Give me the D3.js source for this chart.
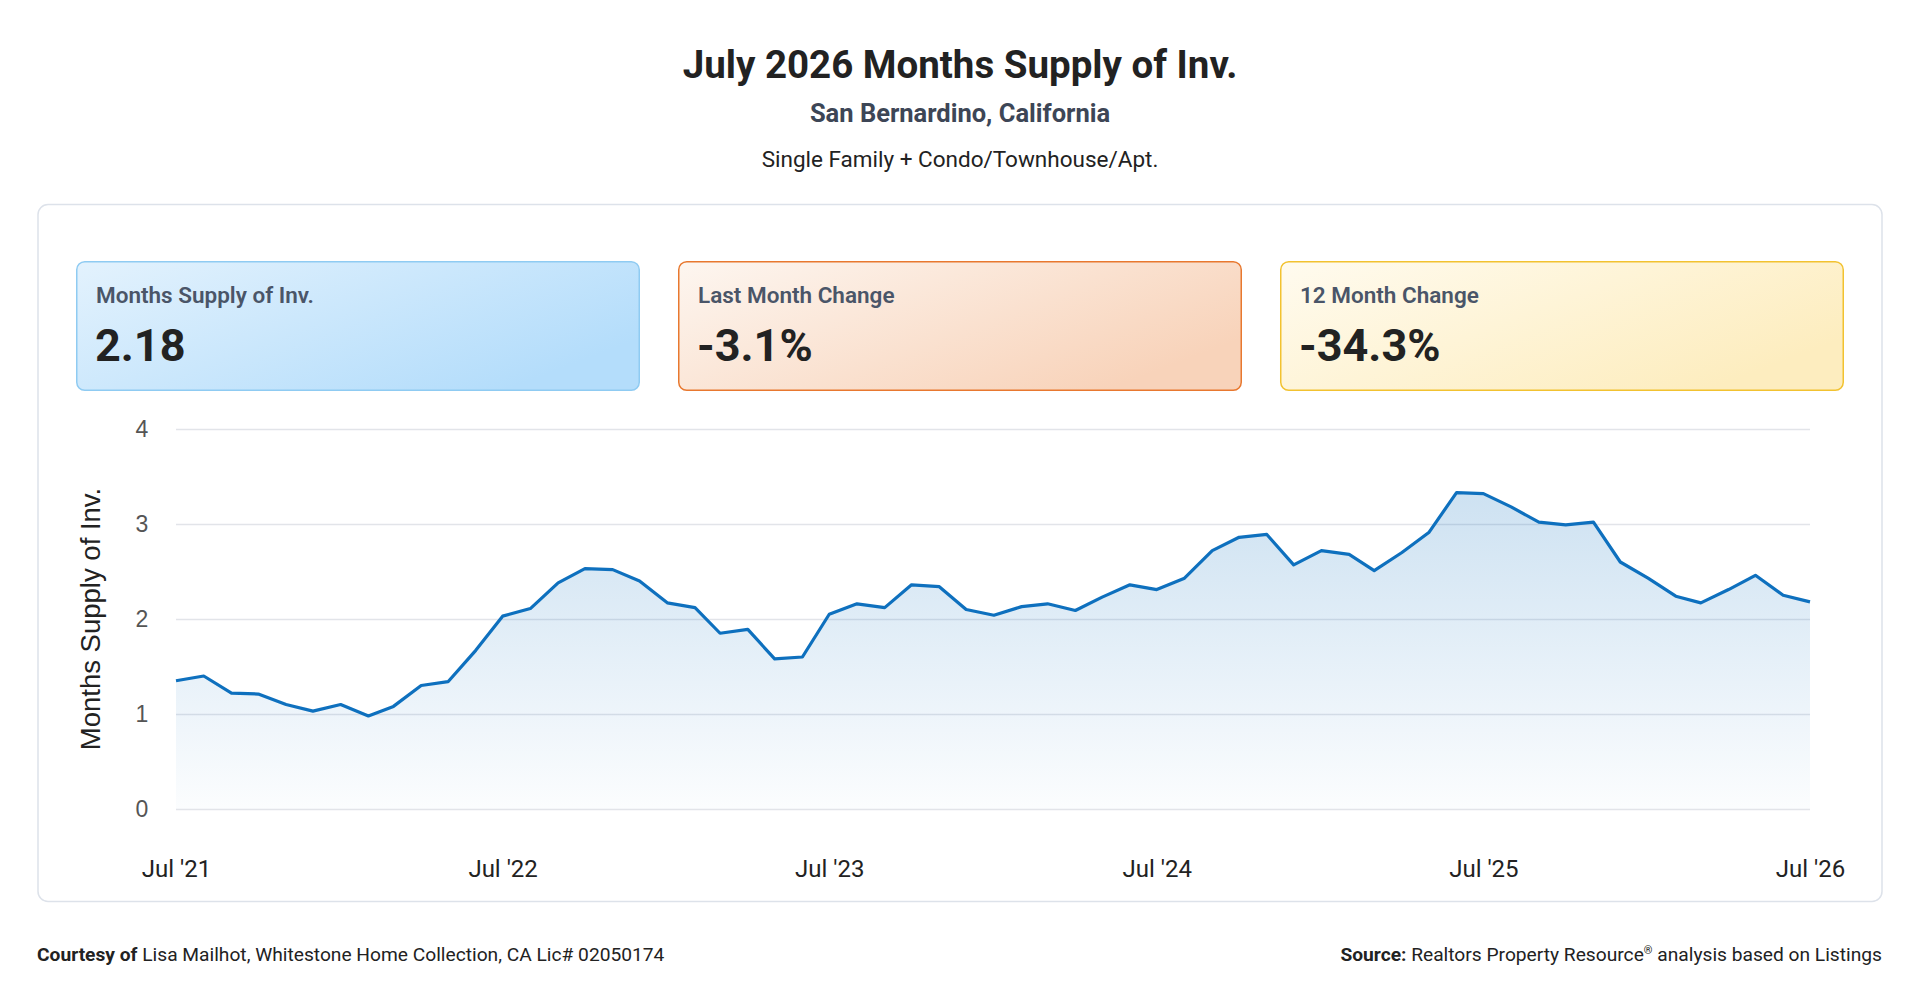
<!DOCTYPE html>
<html>
<head>
<meta charset="utf-8">
<script src="https://cdn.jsdelivr.net/npm/d3@7"></script>
<style>
  html, body { margin: 0; padding: 0; background: #fff; }
  svg { display: block; font-family: Roboto, "Noto Sans", sans-serif; }
</style>
</head>
<body>
<div id="chart"></div>
<script>
// monthly months-supply values, Jul 2021 .. Jul 2026
const startMonth = new Date(2021, 6, 1);
const supplyValues = [
  1.35, 1.40, 1.22, 1.21, 1.10, 1.03, 1.10, 0.98, 1.08, 1.30, 1.34, 1.67,
  2.03, 2.11, 2.38, 2.53, 2.52, 2.40, 2.17, 2.12, 1.85, 1.89, 1.58, 1.60,
  2.05, 2.16, 2.12, 2.36, 2.34, 2.10, 2.04, 2.13, 2.16, 2.09, 2.23, 2.36,
  2.31, 2.43, 2.72, 2.86, 2.89, 2.57, 2.72, 2.68, 2.51, 2.70, 2.91, 3.33,
  3.32, 3.18, 3.02, 2.99, 3.02, 2.60, 2.43, 2.24, 2.17, 2.31, 2.46, 2.25,
  2.18
];
const xTickLabels = ["Jul '21", "Jul '22", "Jul '23", "Jul '24", "Jul '25", "Jul '26"];
const yTicks = [0, 1, 2, 3, 4];

const cardLabels = ['Months Supply of Inv.', 'Last Month Change', '12 Month Change'];
const cardValues = ['2.18', '-3.1%', '-34.3%'];
const cardColors = [
  { from: '#e3f2fd', to: '#b4ddfb', border: '#8fcbf2' },
  { from: '#fdf6f0', to: '#f8d3ba', border: '#e8782f' },
  { from: '#fffbef', to: '#fdedbf', border: '#f2c230' },
];

const W = 1920, H = 1007;
const margin = { left: 176, right: 110, top: 429, bottom: 198 };

const svg = d3.select('#chart')
  .append('svg')
  .attr('width', W)
  .attr('height', H);

const defs = svg.append('defs');

// headings
svg.append('text')
  .attr('x', W / 2).attr('y', 78)
  .attr('text-anchor', 'middle')
  .attr('font-size', 38.5).attr('font-weight', 700)
  .attr('fill', '#222')
  .text('July 2026 Months Supply of Inv.');

svg.append('text')
  .attr('x', W / 2).attr('y', 122)
  .attr('text-anchor', 'middle')
  .attr('font-size', 25.5).attr('font-weight', 700)
  .attr('fill', '#3d4656')
  .text('San Bernardino, California');

svg.append('text')
  .attr('x', W / 2).attr('y', 167)
  .attr('text-anchor', 'middle')
  .attr('font-size', 22.5)
  .attr('fill', '#222')
  .text('Single Family + Condo/Townhouse/Apt.');

// outer panel
svg.append('rect')
  .attr('x', 38).attr('y', 204.5)
  .attr('width', 1844).attr('height', 697)
  .attr('rx', 10)
  .attr('fill', '#fff')
  .attr('stroke', '#dde2ea')
  .attr('stroke-width', 1.5);

// KPI cards
const cardW = 564, cardH = 130, cardGap = 38;
cardColors.forEach((c, i) => {
  const g = defs.append('linearGradient')
    .attr('id', `card-grad-${i}`)
    .attr('x1', '0%').attr('y1', '0%')
    .attr('x2', '100%').attr('y2', '60%');
  g.append('stop').attr('offset', '0%').attr('stop-color', c.from);
  g.append('stop').attr('offset', '100%').attr('stop-color', c.to);
});

const cards = svg.selectAll('.card')
  .data(cardLabels)
  .join('g')
  .attr('class', 'card')
  .attr('transform', (d, i) => `translate(${76 + i * (cardW + cardGap)},261)`);

cards.append('rect')
  .attr('x', 0.75).attr('y', 0.75)
  .attr('width', cardW - 1.5).attr('height', cardH - 1.5)
  .attr('rx', 8)
  .attr('fill', (d, i) => `url(#card-grad-${i})`)
  .attr('stroke', (d, i) => cardColors[i].border)
  .attr('stroke-width', 1.5);

cards.append('text')
  .attr('x', 20).attr('y', 42)
  .attr('font-size', 22.5).attr('font-weight', 600)
  .attr('fill', '#4a5568')
  .text((d) => d);

cards.append('text')
  .attr('x', 19).attr('y', 100)
  .attr('font-size', 45).attr('font-weight', 700)
  .attr('fill', '#222')
  .text((d, i) => cardValues[i]);

// chart
const months = supplyValues.map((v, i) => d3.timeMonth.offset(startMonth, i));
const data = months.map((m, i) => ({ date: m, value: supplyValues[i] }));

const xScale = d3.scaleTime()
  .domain(d3.extent(months))
  .range([margin.left, W - margin.right]);

const yScale = d3.scaleLinear()
  .domain([0, 4])
  .range([H - margin.bottom, margin.top]);

const julyTicks = xTickLabels.map((t, i) => d3.timeYear.offset(startMonth, i));

const areaGrad = defs.append('linearGradient')
  .attr('id', 'area-grad')
  .attr('gradientUnits', 'userSpaceOnUse')
  .attr('x1', 0).attr('y1', yScale(3.4))
  .attr('x2', 0).attr('y2', yScale(0));
areaGrad.append('stop').attr('offset', '0%').attr('stop-color', '#0e70be').attr('stop-opacity', 0.21);
areaGrad.append('stop').attr('offset', '100%').attr('stop-color', '#0e70be').attr('stop-opacity', 0.015);

// grid
const yAxis = d3.axisLeft(yScale)
  .tickValues(yTicks)
  .tickSize(-(W - margin.left - margin.right))
  .tickPadding(22)
  .tickFormat(d3.format('d'));

const yAxisG = svg.append('g')
  .attr('class', 'axis y-axis')
  .attr('transform', `translate(${margin.left},0)`)
  .call(yAxis);
yAxisG.select('.domain').remove();
yAxisG.selectAll('.tick line')
  .attr('stroke', '#e2e4e9')
  .attr('stroke-width', 1.5);
yAxisG.selectAll('.tick text')
  .attr('font-family', '"Liberation Sans", Arial, sans-serif')
  .attr('font-size', 23)
  .attr('fill', '#555')
  .attr('x', -34)
  .attr('text-anchor', 'middle');

const area = d3.area()
  .x((d) => xScale(d.date))
  .y0(yScale(0))
  .y1((d) => yScale(d.value));

const line = d3.line()
  .x((d) => xScale(d.date))
  .y((d) => yScale(d.value));

svg.append('path')
  .datum(data)
  .attr('d', area)
  .attr('fill', 'url(#area-grad)');

svg.append('path')
  .datum(data)
  .attr('d', line)
  .attr('fill', 'none')
  .attr('stroke', '#0e70be')
  .attr('stroke-width', 3.2)
  .attr('stroke-linejoin', 'round');

const xAxis = d3.axisBottom(xScale)
  .tickValues(julyTicks)
  .tickSize(0)
  .tickFormat((d, i) => xTickLabels[i]);

const xAxisG = svg.append('g')
  .attr('class', 'axis x-axis')
  .attr('transform', `translate(0,${yScale(0)})`)
  .call(xAxis);
xAxisG.select('.domain').remove();
xAxisG.selectAll('.tick text')
  .attr('font-family', 'Roboto, sans-serif')
  .attr('font-size', 24)
  .attr('fill', '#222')
  .attr('dy', 0)
  .attr('y', 68);

// y axis title
svg.append('text')
  .attr('transform', `translate(100,${yScale(2)}) rotate(-90)`)
  .attr('text-anchor', 'middle')
  .attr('font-family', '"Liberation Sans", Arial, sans-serif')
  .attr('font-size', 27.5)
  .attr('fill', '#222')
  .text('Months Supply of Inv.');

// footer
const left = svg.append('text')
  .attr('x', 37).attr('y', 961)
  .attr('font-size', 19.2)
  .attr('fill', '#222');
left.append('tspan').attr('font-weight', 700).text('Courtesy of ');
left.append('tspan').text('Lisa Mailhot, Whitestone Home Collection, CA Lic# 02050174');

const right = svg.append('text')
  .attr('x', 1882).attr('y', 961)
  .attr('text-anchor', 'end')
  .attr('font-size', 19.2)
  .attr('fill', '#222');
right.append('tspan').attr('font-weight', 700).text('Source: ');
right.append('tspan').text('Realtors Property Resource');
right.append('tspan').attr('font-size', 11).attr('dy', -7).text('®');
right.append('tspan').attr('dy', 7).text(' analysis based on Listings');
</script>
</body>
</html>
